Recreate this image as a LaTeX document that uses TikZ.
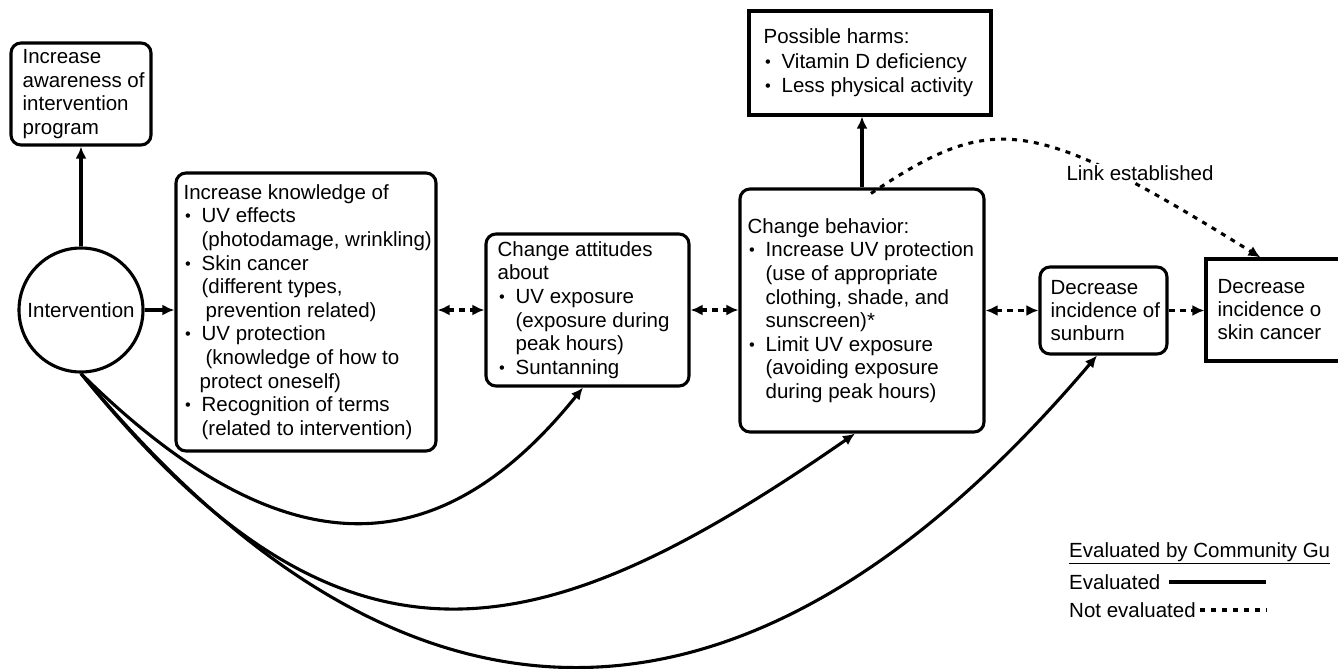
\documentclass[tikz,border=0pt]{standalone}
\usepackage{fontspec}
\usepackage{graphicx}
\setmainfont{Liberation Sans}
\usetikzlibrary{arrows.meta,calc}
\newcommand\mybul{\makebox[18pt][l]{\hspace{1.5pt}\raisebox{1pt}{\scalebox{0.8}{\textbullet}}}}
\newcommand\myind{\hspace*{18pt}}
\begin{document}
\begin{tikzpicture}[x=1pt,y=-1pt,
  lw/.style={line width=3.1pt},
  rbox/.style={draw, lw, rounded corners=10pt, inner sep=0pt},
  sbox/.style={draw, lw, inner sep=0pt},
  txt/.style={font=\fontsize{20.5}{23.6}\selectfont, align=left, inner sep=0pt, anchor=west},
  tip/.tip={Latex[length=12pt,width=11pt]},
  ar/.style={lw, -tip},
  dar/.style={lw, tip-tip, dash pattern=on 6pt off 5pt},
  sar/.style={lw, -tip, dash pattern=on 6pt off 5pt},
  dotl/.style={lw, dash pattern=on 5pt off 6pt}
]
\useasboundingbox (0,0) rectangle (1338,669);
\clip (0,0) rectangle (1338,669);

% boxes
\node[rbox, minimum width=140pt, minimum height=102pt] (aw) at (81,94) {};
\node[txt] (awt) at ([xshift=13pt]aw.west) {Increase\\awareness of\\intervention\\program};

\node[circle, draw, lw, minimum size=124pt, inner sep=0pt, font=\fontsize{20.5}{23.6}\selectfont] (int) at (81,310) {Intervention};

\node[rbox, minimum width=260pt, minimum height=278pt] (kn) at (306,312) {};
\node[txt] (knt) at ([xshift=9pt]kn.west) {Increase knowledge of\\
\mybul UV effects\\
\myind(photodamage, wrinkling)\\
\mybul Skin cancer\\
\myind(different types,\\
\myind\hspace*{4pt}prevention related)\\
\mybul UV protection\\
\myind\hspace*{4pt}(knowledge of how to\\
\hspace*{16pt}protect oneself)\\
\mybul Recognition of terms\\
\myind(related to intervention)};

\node[rbox, minimum width=203pt, minimum height=152pt] (att) at (587.5,310) {};
\node[txt] (attt) at ([xshift=13pt]att.west) {Change attitudes\\
about\\
\mybul UV exposure\\
\myind(exposure during\\
\myind peak hours)\\
\mybul Suntanning};

\node[rbox, minimum width=244pt, minimum height=243pt] (beh) at (862,310.5) {};
\node[txt] (beht) at ([xshift=9pt]beh.west) {Change behavior:\\
\mybul Increase UV protection\\
\myind(use of appropriate\\
\myind clothing, shade, and\\
\myind sunscreen)*\\
\mybul Limit UV exposure\\
\myind(avoiding exposure\\
\myind during peak hours)};

\node[sbox, minimum width=242pt, minimum height=104pt] (harm) at (870,63) {};
\node[txt, font=\fontsize{20.5}{24.5}\selectfont] (harmt) at ([xshift=16pt]harm.west) {Possible harms:\\
\mybul Vitamin D deficiency\\
\mybul Less physical activity};

\node[rbox, minimum width=127pt, minimum height=87pt] (sun) at (1103.5,310.5) {};
\node[txt, font=\fontsize{20.5}{23}\selectfont] (sunt) at ([xshift=12pt]sun.west) {Decrease\\incidence of\\sunburn};

\node[sbox, minimum width=180pt, minimum height=102pt] (skin) at (1296,310) {};
\node[txt, font=\fontsize{20.5}{23}\selectfont] (skint) at ([xshift=13pt]skin.west) {Decrease\\incidence o\\skin cancer};

% straight connectors
\draw[ar] (int.north) -- (aw.south);
\draw[ar] (int.east) -- (kn.west |- int.east);
\draw[dar] (kn.east |- int) -- (att.west |- int);
\draw[dar] (att.east |- int) -- (beh.west |- int);
\draw[dar] (beh.east |- sun) -- (sun.west);
\draw[sar] (sun.east) -- (skin.west |- sun);
\draw[ar] (beh.north) -- (beh.north |- harm.south);

% curved connectors from intervention
\draw[ar] (int.south) .. controls (285,575) and (440,565) .. ([xshift=-4.5pt]att.south);
\draw[ar] (int.south) .. controls (345,701) and (540,652) .. ([xshift=-7pt]beh.south);
\draw[ar] (int.south) .. controls (416,779) and (758,755) .. ([xshift=-6.5pt]sun.south);

% link established
\draw[dotl, -tip] ([xshift=9pt, yshift=-6pt]beh.north) .. controls (993,112) and (1031,115) .. ([xshift=56pt]skin.north west);
\node[font=\fontsize{20.5}{23.6}\selectfont, fill=white, inner sep=1pt] (link) at (1140,173) {Link established};

% legend
\node[txt] (lt) at (1069,553) {\underline{Evaluated by Community Gu}};
\node[txt] (le) at (1069,582) {Evaluated};
\node[txt] (ln) at (1069,610) {Not evaluated};
\coordinate (le2) at (1266,582);
\coordinate (ln2) at (1266,610);
\draw[lw] ([xshift=8pt]le.east) -- (le2);
\draw[dotl] ([xshift=4pt]ln.east) -- (ln2);
\end{tikzpicture}
\end{document}
